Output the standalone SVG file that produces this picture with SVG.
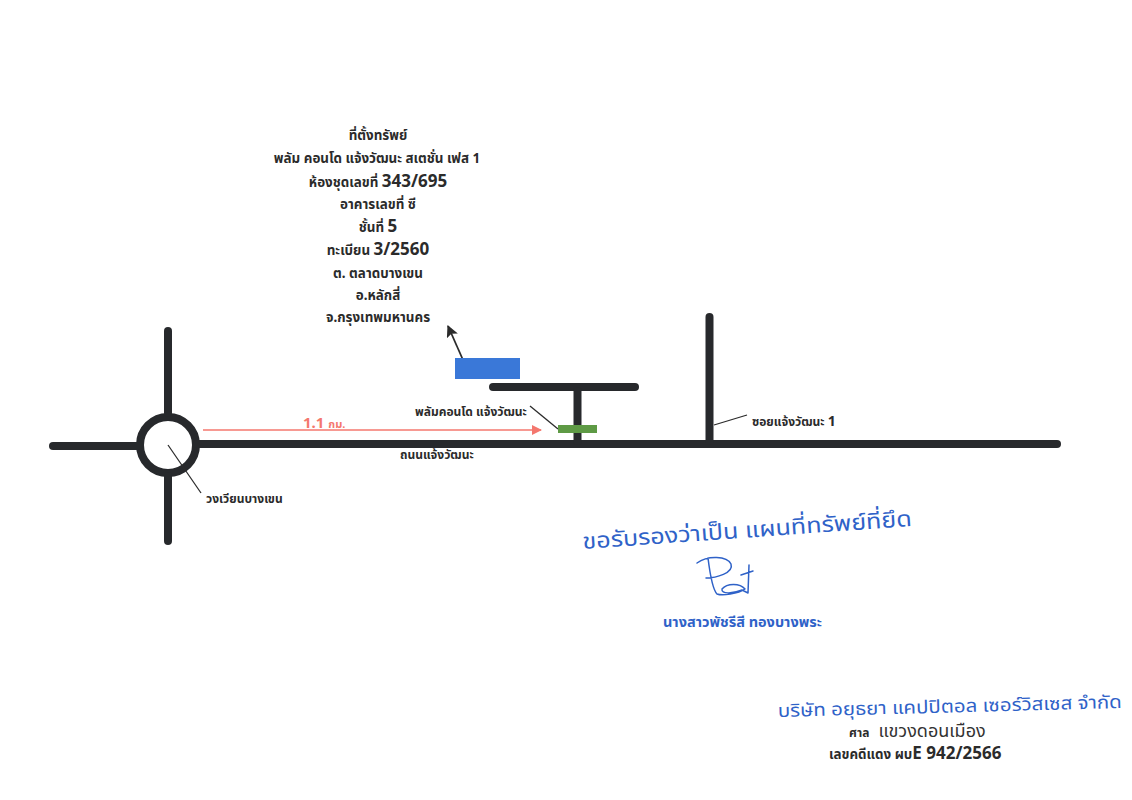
<svg xmlns="http://www.w3.org/2000/svg" width="1132" height="800" viewBox="0 0 1132 800">
<style>
text{font-family:"Noto Sans","Noto Sans Thai","DejaVu Sans","Liberation Sans",sans-serif;fill:#2b2b2b;font-weight:700}
.c{text-anchor:middle}
.s{font-size:12px}
.a{font-size:13.400px}
.b{font-size:17px}
.road{fill:none;stroke:#27292c;stroke-width:8;stroke-linecap:round}
.lead{fill:none;stroke:#2b2b2b;stroke-width:1.300}
.hand{fill:#2f62c8;font-weight:400}
.ink{fill:none;stroke:#2f62c8;stroke-width:1.500;stroke-linecap:round;stroke-linejoin:round}
</style>
<defs>
<marker id="ah" viewBox="0 0 10 10" refX="9" refY="5" markerWidth="12" markerHeight="12" markerUnits="userSpaceOnUse" orient="auto"><path d="M0 0L10 5L0 10L2 5Z" fill="#2b2b2b"/></marker>
<marker id="ar" viewBox="0 0 10 10" refX="9" refY="5" markerWidth="10" markerHeight="10" markerUnits="userSpaceOnUse" orient="auto"><path d="M0 0L10 5L0 10Z" fill="#f4776e"/></marker>
</defs>
<rect width="1132" height="800" fill="#fff"/>
<g id="roundabout"><circle cx="168" cy="445" r="28" fill="#fff" stroke="#27292c" stroke-width="8"/></g>
<g id="connectors">
<path class="road" d="M53 446H138"/>
<path class="road" d="M197 444H1057"/>
<path class="road" d="M168 331V413"/>
<path class="road" d="M168 476V541"/>
<path class="road" d="M493 387H635"/>
<path class="road" d="M577.500 391V441"/>
<path class="road" d="M709.500 317V441"/>
<path class="lead" d="M168 445L201 493"/>
<path class="lead" style="stroke-width:1.800" d="M467 369L448 326" marker-end="url(#ah)"/>
<path class="lead" d="M530 406L558 429"/>
<path class="lead" d="M714 425L747 415"/>
<path d="M203 430H541" fill="none" stroke="#f4776e" stroke-width="1.600" marker-end="url(#ar)"/>
</g>
<g id="building"><rect x="455" y="358" width="65" height="21" fill="#3a78d8"/></g>
<g id="site"><rect x="558" y="425" width="39" height="8" fill="#5e9a45"/></g>
<g id="address">
<text class="a c" x="378" y="140">ที่ตั้งทรัพย์</text>
<text class="a c" x="377" y="163">พลัม คอนโด แจ้งวัฒนะ สเตชั่น เฟส 1</text>
<text class="a c" x="378" y="187">ห้องชุดเลขที่ <tspan class="b">343/695</tspan></text>
<text class="a c" x="378" y="209">อาคารเลขที่  ซี</text>
<text class="a c" x="378" y="232">ชั้นที่ <tspan class="b">5</tspan></text>
<text class="a c" x="378" y="255">ทะเบียน <tspan class="b">3/2560</tspan></text>
<text class="a c" x="378" y="278">ต. ตลาดบางเขน</text>
<text class="a c" x="378" y="300">อ.หลักสี่</text>
<text class="a c" x="378" y="322">จ.กรุงเทพมหานคร</text>
</g>
<g id="labels">
<text x="303" y="428" style="fill:#f4776e;font-size:15px">1.1 <tspan font-size="11">กม.</tspan></text>
<text class="s" x="415" y="416">พลัมคอนโด แจ้งวัฒนะ</text>
<text class="s" x="400" y="459">ถนนแจ้งวัฒนะ</text>
<text class="s" x="206" y="503">วงเวียนบางเขน</text>
<text class="s" x="752" y="426">ซอยแจ้งวัฒนะ <tspan font-size="14">1</tspan></text>
</g>
<g id="certification">
<text class="hand" transform="translate(583 549) rotate(-4)" font-size="22" textLength="330" lengthAdjust="spacingAndGlyphs">ขอรับรองว่าเป็น แผนที่ทรัพย์ที่ยึด</text>
<path class="ink" d="M697 563C708 555 727 556 731 564C734 573 716 578 706 578M708 558C710 574 713 590 717 594C722 596 738 594 745 589C740 583 727 583 722 589C721 594 732 594 742 590L748 593L749 565M741 575L753 571"/>
<text class="hand" x="663" y="627" style="font-size:14.500px;font-weight:700">นางสาวพัชรีสี  ทองบางพระ</text>
</g>
<g id="case">
<text class="hand" transform="translate(778 717) rotate(-1.500)" font-size="18" textLength="344" lengthAdjust="spacingAndGlyphs">บริษัท อยุธยา แคปปิตอล เซอร์วิสเซส จำกัด</text>
<text class="s" x="849" y="737">ศาล <tspan dx="6" style="fill:#333;font-weight:400" font-size="18">แขวงดอนเมือง</tspan></text>
<text class="a" x="829" y="759">เลขคดีแดง ผบ<tspan class="b">E 942/2566</tspan></text>
</g>
</svg>
